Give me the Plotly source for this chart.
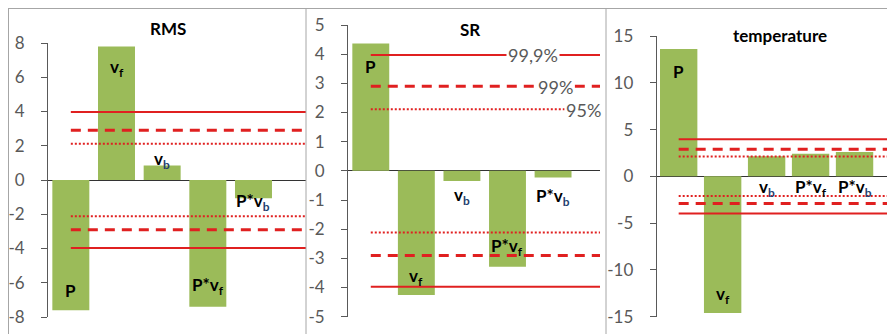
import plotly.graph_objects as go

# ---------------- data ----------------
categories = ["P", "v_f", "v_b", "P*v_f", "P*v_b"]
label_texts = ["P", "v<sub>f</sub>", "v<sub><span style='color:#1F3F6F'>b</span></sub>",
               "P*v<sub>f</sub>", "P*v<sub><span style='color:#1F3F6F'>b</span></sub>"]

rms_values = [-7.6, 7.8, 0.84, -7.4, -1.06]
sr_values = [4.37, -4.26, -0.35, -3.29, -0.23]
temp_values = [13.6, -14.6, 2.14, 2.42, 2.6]

thresholds = [3.97, 2.90, 2.11]          # 99.9%, 99%, 95%
threshold_names = ["99,9%", "99%", "95%"]
n_line_points = 8                        # line series continue past the visible categories

titles = ["RMS", "SR", "temperature"]
rms_ticks = [-8, -6, -4, -2, 0, 2, 4, 6, 8]
sr_ticks = [-5, -4, -3, -2, -1, 0, 1, 2, 3, 4, 5]
temp_ticks = [-15, -10, -5, 0, 5, 10, 15]

# ---------------- style ----------------
W, H = 895, 334
OFF = 8   # page body margin: figure origin sits 8px right/down in the browser
FONT = "Lato, 'Open Sans', sans-serif"
BAR_COLOR = "#9BBB59"
RED = "#E02020"
AXIS_COLOR = "#595959"
TICK_COLOR = "#595959"


def pxx(px):
    return (px - OFF) / W


def pxy(py):
    return 1 - (py - OFF) / H


# pixel geometry (screen coords) of the three panels: (x_left, x_right, y_top, y_bottom, x_range_end, bar_width)
panels = [
    (48, 306, 43, 317, 5.15, 0.81),
    (348, 600, 25, 316.7, 5.03, 0.81),
    (656.7, 895, 36, 316.7, 4.92, 0.85),
]
title_pos = [(168, 28), (470, 30), (780, 35)]
# label placement: (mode, pixel shift) ; mode 'end' = at bar end, 'zero' = at axis
label_place = [
    [("end", 20), ("end", -22), ("end", 6), ("end", 21), ("end", -4)],
    [("end", -23), ("end", 18), ("end", -15), ("end", 20), ("end", -19)],
    [("end", -22), ("end", 18), ("zero", -12), ("zero", -12), ("zero", -12)],
]
line_styles = [dict(dash="solid", width=2), dict(dash="10px,7px", width=3), dict(dash="2px,2px", width=2)]

all_values = [rms_values, sr_values, temp_values]
all_ticks = [rms_ticks, sr_ticks, temp_ticks]
xs = list(range(len(categories)))
line_x = list(range(n_line_points))

fig = go.Figure()
annotations = []
shapes = []

for i, (vals, title, ticks) in enumerate(zip(all_values, titles, all_ticks)):
    k = "" if i == 0 else str(i + 1)
    xl, xr, yt, yb, xend, bw = panels[i]
    fig.add_trace(go.Bar(
        x=xs, y=vals, width=bw, marker=dict(color=BAR_COLOR, line=dict(width=0)),
        xaxis="x" + k, yaxis="y" + k, showlegend=False, hoverinfo="skip"))
    for t, st in zip(thresholds, line_styles):
        for sgn in (1, -1):
            fig.add_trace(go.Scatter(
                x=line_x, y=[sgn * t] * n_line_points, mode="lines",
                line=dict(color=RED, width=st["width"], dash=st["dash"]),
                xaxis="x" + k, yaxis="y" + k, showlegend=False, hoverinfo="skip"))
    fig.update_layout(**{
        "xaxis" + k: dict(domain=[pxx(xl), min(1, pxx(xr))], range=[-0.5, xend], visible=False,
                          anchor="y" + k, fixedrange=True, automargin=False),
        "yaxis" + k: dict(domain=[pxy(yb), pxy(yt)], range=[min(ticks), max(ticks)],
                          tickmode="array", tickvals=ticks, ticktext=[str(v) for v in ticks],
                          anchor="x" + k, automargin=False,
                          showgrid=False, zeroline=True, zerolinecolor="#333333",
                          zerolinewidth=1, showline=True, linecolor=AXIS_COLOR, linewidth=1,
                          ticks="outside", ticklen=6, tickcolor=AXIS_COLOR,
                          ticklabelstandoff=13,
                          tickfont=dict(family=FONT, size=17, color=TICK_COLOR)),
    })
    # title
    tx, ty = title_pos[i]
    annotations.append(dict(text="<b>%s</b>" % title, x=pxx(tx), y=pxy(ty), xref="paper",
                            yref="paper", showarrow=False, xanchor="center", yanchor="middle",
                            font=dict(family=FONT, size=17, color="#000000")))
    # data labels
    for j, (txt, v) in enumerate(zip(label_texts, vals)):
        mode, sh = label_place[i][j]
        yv = v if mode == "end" else 0
        annotations.append(dict(text="<b>%s</b>" % txt, x=xs[j], y=yv, xref="x" + k,
                                yref="y" + k, showarrow=False, yshift=sh,
                                xanchor="center", yanchor="middle",
                                font=dict(family=FONT, size=17, color="#000000")))

# percentage labels on the SR panel
pct_x = [3.57, 4.05, 4.66]
pct_shift = [0, -1, -1]
for name, t, px_, sh in zip(threshold_names, thresholds, pct_x, pct_shift):
    annotations.append(dict(text=name, x=px_, y=t, xref="x2", yref="y2", showarrow=False,
                            yshift=sh, xanchor="center", yanchor="middle", bgcolor="white",
                            borderpad=1,
                            font=dict(family=FONT, size=18, color="#595959")))

# panel borders
BORDER = "#A6A6A6"
for bx in (8.5, 306, 606):
    shapes.append(dict(type="line", xref="paper", yref="paper", x0=pxx(bx), x1=pxx(bx),
                       y0=0, y1=pxy(7), line=dict(color=BORDER, width=1)))
shapes.append(dict(type="line", xref="paper", yref="paper", x0=pxx(8.5), x1=1,
                   y0=pxy(8.5), y1=pxy(8.5), line=dict(color=BORDER, width=1)))

fig.update_layout(width=W, height=H, margin=dict(l=0, r=0, t=0, b=0, autoexpand=False),
                  paper_bgcolor="white", plot_bgcolor="white", barmode="overlay",
                  annotations=annotations, shapes=shapes, showlegend=False,
                  font=dict(family=FONT))

fig.write_html("out.html")
